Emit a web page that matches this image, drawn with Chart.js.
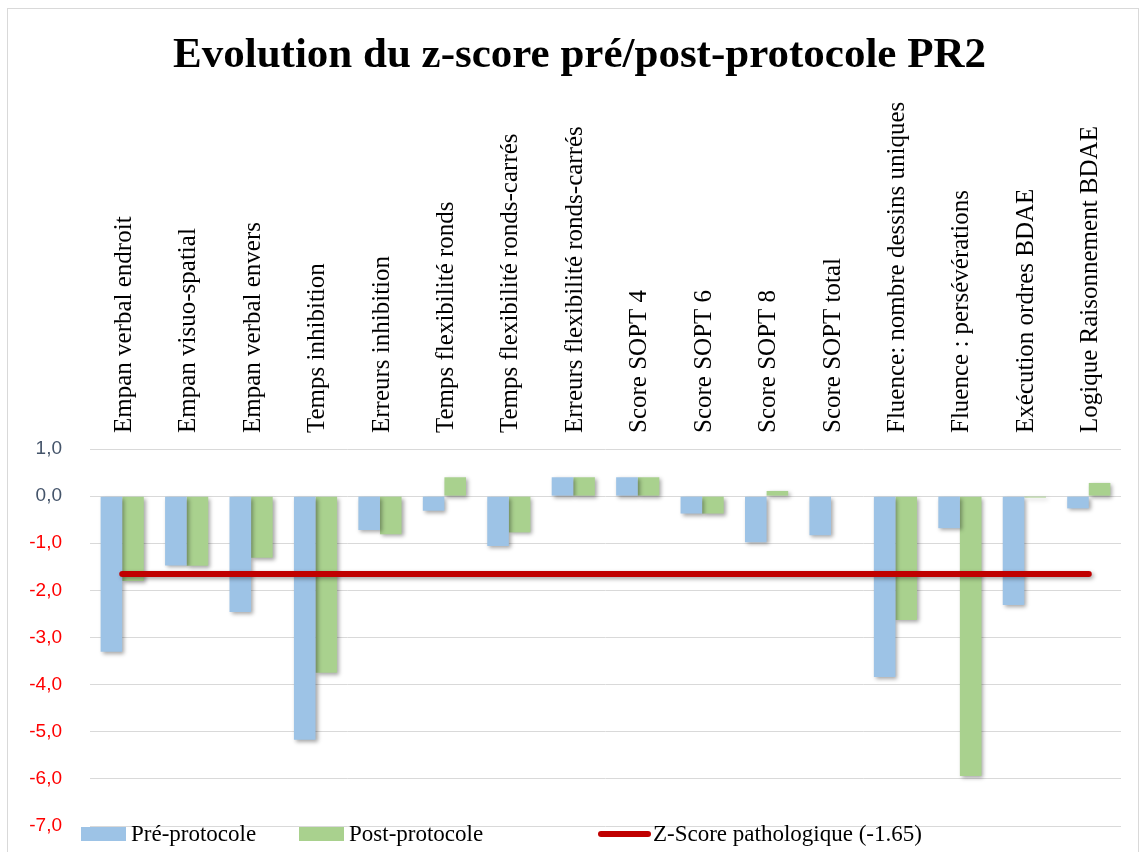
<!DOCTYPE html>
<html>
<head>
<meta charset="utf-8">
<script src="https://cdn.jsdelivr.net/npm/chart.js@4/dist/chart.umd.min.js"></script>
<style>
  html, body { margin: 0; padding: 0; background: #fff; }
  #wrap { width: 1144px; height: 852px; position: relative; }
</style>
</head>
<body>
<div id="wrap"><canvas id="chart" width="1144" height="852"></canvas></div>
<script>
// categories (tests)
var categories = [
  "Empan verbal endroit",
  "Empan visuo-spatial",
  "Empan verbal envers",
  "Temps inhibition",
  "Erreurs inhibition",
  "Temps flexibilité ronds",
  "Temps flexibilité ronds-carrés",
  "Erreurs flexibilité ronds-carrés",
  "Score SOPT 4",
  "Score SOPT 6",
  "Score SOPT 8",
  "Score SOPT total",
  "Fluence: nombre dessins uniques",
  "Fluence : persévérations",
  "Exécution ordres BDAE",
  "Logique Raisonnement BDAE"
];

// z-scores
var preProtocole  = [-3.3, -1.47, -2.46, -5.17, -0.72, -0.31, -1.06, 0.40, 0.40, -0.37, -0.98, -0.83, -3.84, -0.68, -2.31, -0.26];
var postProtocole = [-1.8, -1.48, -1.31, -3.75, -0.81, 0.40, -0.77, 0.40, 0.40, -0.37, 0.11, null, -2.63, -5.94, -0.03, 0.28];
var seuilPathologique = -1.65;
var seuilSerie = categories.map(function () { return seuilPathologique; });

var yMin = -7, yMax = 1, yStep = 1;

var BLUE = "#9DC3E6", GREEN = "#A9D18E", RED = "#C00000";

// ombre portée sous les barres et la ligne
var shadowPlugin = {
  id: "shadow",
  beforeDatasetDraw: function (chart) {
    var ctx = chart.ctx;
    ctx.save();
    ctx.shadowColor = "rgba(0,0,0,0.35)";
    ctx.shadowBlur = 4;
    ctx.shadowOffsetX = 2;
    ctx.shadowOffsetY = 2;
  },
  afterDatasetDraw: function (chart) {
    chart.ctx.restore();
  }
};

// cadre gris autour du graphique
var framePlugin = {
  id: "frame",
  beforeDraw: function (chart) {
    var ctx = chart.ctx;
    ctx.save();
    ctx.strokeStyle = "#D9D9D9";
    ctx.lineWidth = 1;
    ctx.strokeRect(7.5, 8.5, 1131, 860);
    ctx.restore();
  }
};

// légende en bas, posée sur la dernière ligne de grille comme dans Excel
var legendPlugin = {
  id: "bottomLegend",
  afterDraw: function (chart) {
    var ctx = chart.ctx;
    var y = 834;
    var starts = [81, 299, 598];
    ctx.save();
    ctx.font = "23px 'Liberation Serif'";
    ctx.textBaseline = "middle";
    ctx.fillStyle = "#000";
    chart.data.datasets.forEach(function (ds, i) {
      var x = starts[i];
      if (ds.type === "line") {
        ctx.strokeStyle = ds.borderColor;
        ctx.lineWidth = 6;
        ctx.lineCap = "round";
        ctx.beginPath();
        ctx.moveTo(x + 3, y);
        ctx.lineTo(x + 50, y);
        ctx.stroke();
        ctx.fillText(ds.label, x + 55, y + 1);
      } else {
        ctx.fillStyle = ds.backgroundColor;
        ctx.fillRect(x, y - 7, 45, 14);
        ctx.fillStyle = "#000";
        ctx.fillText(ds.label, x + 50, y + 1);
      }
    });
    ctx.restore();
  }
};

var ctx = document.getElementById("chart").getContext("2d");
new Chart(ctx, {
  type: "bar",
  data: {
    labels: categories,
    datasets: [
      {
        label: "Pré-protocole",
        data: preProtocole,
        backgroundColor: BLUE,
        categoryPercentage: 0.67,
        barPercentage: 1.0,
        order: 1
      },
      {
        label: "Post-protocole",
        data: postProtocole,
        backgroundColor: GREEN,
        categoryPercentage: 0.67,
        barPercentage: 1.0,
        order: 1
      },
      {
        type: "line",
        label: "Z-Score pathologique (-1.65)",
        data: seuilSerie,
        borderColor: RED,
        backgroundColor: RED,
        borderWidth: 6,
        borderCapStyle: "round",
        pointRadius: 0,
        pointHoverRadius: 0,
        fill: false,
        order: 0
      }
    ]
  },
  options: {
    responsive: false,
    animation: false,
    layout: { padding: { left: 26, right: 11, top: 0, bottom: 26 } },
    plugins: {
      legend: { display: false },
      tooltip: { enabled: false },
      title: {
        display: true,
        text: "Evolution du z-score pré/post-protocole PR2",
        color: "#000",
        font: { family: "'Liberation Serif'", size: 43, weight: "bold", lineHeight: 1.2 },
        padding: { top: 30, bottom: 0 }
      }
    },
    scales: {
      x: {
        position: "top",
        offset: true,
        grid: { display: false, drawTicks: false },
        border: { display: false },
        ticks: {
          autoSkip: false,
          maxRotation: 90,
          minRotation: 90,
          padding: 16,
          labelOffset: 32,
          color: "#000",
          font: { family: "'Liberation Serif'", size: 25 }
        },
        afterFit: function (scale) { scale.height = 367.4; }
      },
      y: {
        min: yMin,
        max: yMax,
        grid: { color: "#D9D9D9", lineWidth: 1, drawTicks: false },
        border: { display: false },
        ticks: {
          stepSize: yStep,
          padding: 28,
          font: { family: "'Liberation Sans'", size: 19 },
          color: function (c) { return c.tick && c.tick.value < 0 ? "#FF0000" : "#44546A"; },
          callback: function (v) { return v.toFixed(1).replace(".", ","); }
        },
        afterFit: function (scale) {
          scale.width = 64;
          scale.paddingTop = 0;
          scale.paddingBottom = 0;
        }
      },
      yRight: {
        position: "right",
        display: true,
        grid: { display: false, drawTicks: false },
        border: { display: false },
        ticks: { display: false },
        afterFit: function (scale) {
          scale.width = 12;
          scale.paddingTop = 0;
          scale.paddingBottom = 0;
        }
      }
    }
  },
  plugins: [framePlugin, shadowPlugin, legendPlugin]
});
</script>
</body>
</html>
